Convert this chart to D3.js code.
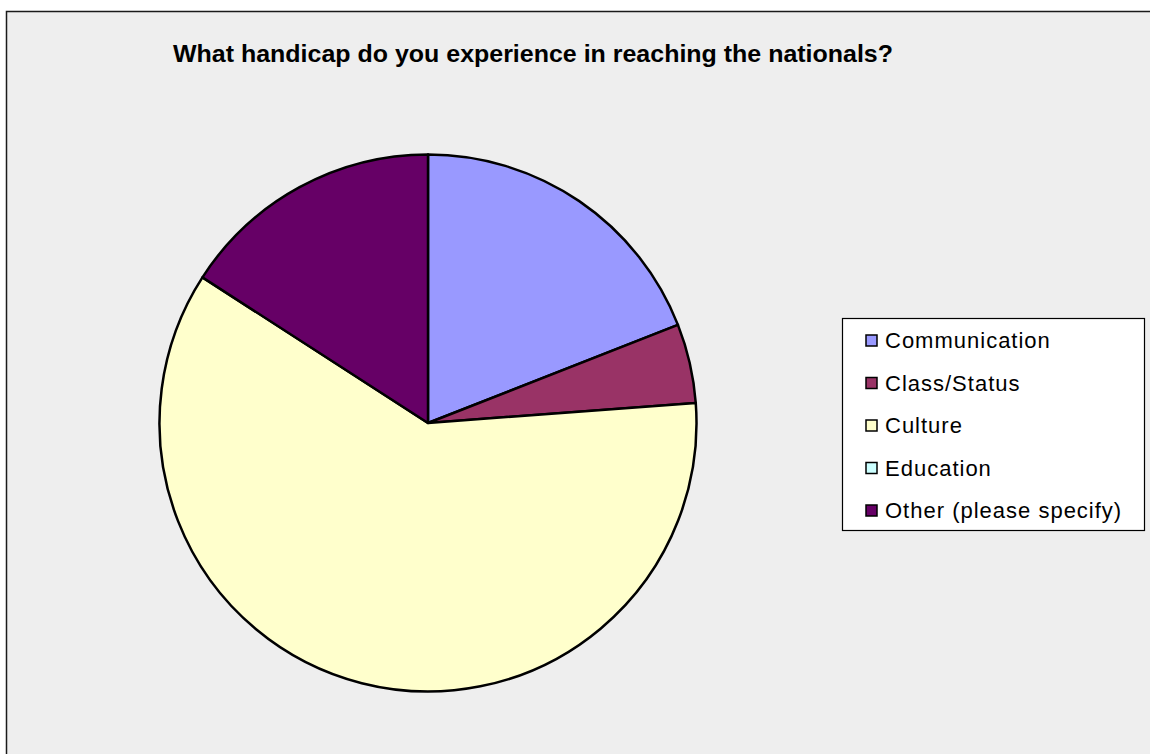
<!DOCTYPE html>
<html>
<head>
<meta charset="utf-8">
<script src="https://cdn.jsdelivr.net/npm/d3@7"></script>
<style>
  html, body { margin: 0; padding: 0; background: #ffffff; }
  svg { display: block; }
</style>
</head>
<body>
<svg id="chart" width="1150" height="754"></svg>
<script>
// Survey responses
const categories = ["Communication", "Class/Status", "Culture", "Education", "Other (please specify)"];
const counts = [12, 3, 38, 0, 10];
const colors = ["#9999ff", "#993366", "#ffffcc", "#ccffff", "#660066"];
const title = "What handicap do you experience in reaching the nationals?";

const svg = d3.select("#chart");

// Chart area background and frame (runs off the right and bottom edges)
svg.append("rect")
  .attr("x", 6.5).attr("y", 11.5)
  .attr("width", 1200).attr("height", 800)
  .attr("fill", "#eeeeee")
  .attr("stroke", "#1a1a1a")
  .attr("stroke-width", 1.5);

// Title
svg.append("text")
  .attr("x", 173).attr("y", 62)
  .attr("font-family", "Liberation Sans, Arial, sans-serif")
  .attr("font-size", 24)
  .attr("font-weight", "bold")
  .attr("textLength", 720)
  .attr("lengthAdjust", "spacingAndGlyphs")
  .attr("fill", "#000")
  .text(title);

// Pie
const cx = 428, cy = 423, radius = 268.5;
const color = d3.scaleOrdinal().domain(categories).range(colors);
const pie = d3.pie().sort(null).value(d => d.value);
const arc = d3.arc().innerRadius(0).outerRadius(radius);
const data = categories.map((c, i) => ({ name: c, value: counts[i] }));

svg.append("g")
  .attr("transform", `translate(${cx},${cy})`)
  .selectAll("path")
  .data(pie(data).filter(d => d.data.value > 0))
  .join("path")
  .attr("d", arc)
  .attr("fill", d => color(d.data.name))
  .attr("stroke", "#000")
  .attr("stroke-width", 2.5)
  .attr("stroke-linejoin", "round");

// Legend
const lg = svg.append("g");
lg.append("rect")
  .attr("x", 842.5).attr("y", 318.5)
  .attr("width", 302).attr("height", 212)
  .attr("fill", "#ffffff")
  .attr("stroke", "#000")
  .attr("stroke-width", 1.2);

const rowY = d3.scalePoint().domain(categories).range([340, 510]);
const item = lg.selectAll("g.item")
  .data(categories)
  .join("g")
  .attr("class", "item")
  .attr("transform", d => `translate(0,${rowY(d)})`);

item.append("rect")
  .attr("x", 866).attr("y", -5)
  .attr("width", 11).attr("height", 11)
  .attr("fill", d => color(d))
  .attr("stroke", "#000")
  .attr("stroke-width", 1.5);

item.append("text")
  .attr("x", 885).attr("y", 8)
  .attr("font-family", "Liberation Sans, Arial, sans-serif")
  .attr("font-size", 22)
  .attr("letter-spacing", 1)
  .attr("fill", "#000")
  .text(d => d);
</script>
</body>
</html>
